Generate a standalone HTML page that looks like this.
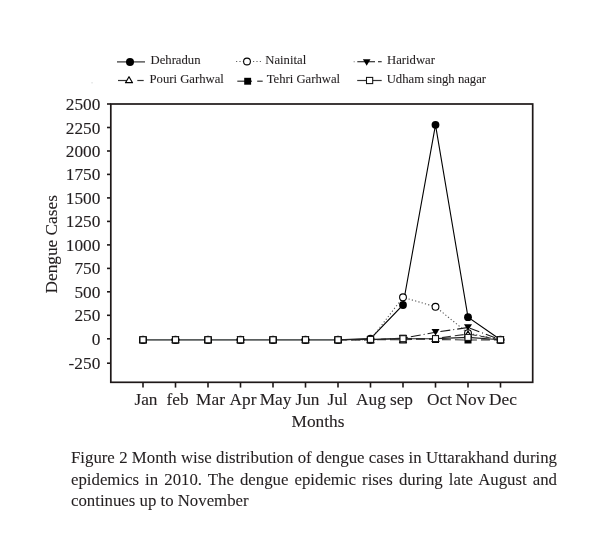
<!DOCTYPE html>
<html><head><meta charset="utf-8"><style>
html,body{margin:0;padding:0;background:#fff;}
body{width:600px;height:546px;overflow:hidden;position:relative;}
svg{position:absolute;left:0;top:0;will-change:transform;}
.t{font-family:"Liberation Serif",serif;font-size:17.3px;fill:#231f20;stroke:#231f20;stroke-width:0.12px;}
.l{font-family:"Liberation Serif",serif;font-size:12.7px;fill:#231f20;stroke:#231f20;stroke-width:0.1px;}
.cap{position:absolute;left:70.5px;width:486px;height:19px;font-family:"Liberation Serif",serif;font-size:16.8px;line-height:19px;color:#231f20;text-align:justify;text-align-last:justify;white-space:nowrap;will-change:transform;-webkit-text-stroke:0.08px #231f20;}
</style></head><body>
<svg width="600" height="546" viewBox="0 0 600 546">
<rect x="110.8" y="104" width="421.9" height="278.3" fill="none" stroke="#1e1818" stroke-width="1.7"/>
<line x1="107" y1="104.0" x2="110.8" y2="104.0" stroke="#1e1818" stroke-width="1.6"/>
<text transform="translate(100.3,110.0) scale(1,1.0)" text-anchor="end" class="t">2500</text>
<line x1="107" y1="127.5" x2="110.8" y2="127.5" stroke="#1e1818" stroke-width="1.6"/>
<text transform="translate(100.3,133.5) scale(1,1.0)" text-anchor="end" class="t">2250</text>
<line x1="107" y1="151.0" x2="110.8" y2="151.0" stroke="#1e1818" stroke-width="1.6"/>
<text transform="translate(100.3,157.0) scale(1,1.0)" text-anchor="end" class="t">2000</text>
<line x1="107" y1="174.4" x2="110.8" y2="174.4" stroke="#1e1818" stroke-width="1.6"/>
<text transform="translate(100.3,180.4) scale(1,1.0)" text-anchor="end" class="t">1750</text>
<line x1="107" y1="197.9" x2="110.8" y2="197.9" stroke="#1e1818" stroke-width="1.6"/>
<text transform="translate(100.3,203.9) scale(1,1.0)" text-anchor="end" class="t">1500</text>
<line x1="107" y1="221.4" x2="110.8" y2="221.4" stroke="#1e1818" stroke-width="1.6"/>
<text transform="translate(100.3,227.4) scale(1,1.0)" text-anchor="end" class="t">1250</text>
<line x1="107" y1="244.9" x2="110.8" y2="244.9" stroke="#1e1818" stroke-width="1.6"/>
<text transform="translate(100.3,250.9) scale(1,1.0)" text-anchor="end" class="t">1000</text>
<line x1="107" y1="268.4" x2="110.8" y2="268.4" stroke="#1e1818" stroke-width="1.6"/>
<text transform="translate(100.3,274.4) scale(1,1.0)" text-anchor="end" class="t">750</text>
<line x1="107" y1="291.8" x2="110.8" y2="291.8" stroke="#1e1818" stroke-width="1.6"/>
<text transform="translate(100.3,297.8) scale(1,1.0)" text-anchor="end" class="t">500</text>
<line x1="107" y1="315.3" x2="110.8" y2="315.3" stroke="#1e1818" stroke-width="1.6"/>
<text transform="translate(100.3,321.3) scale(1,1.0)" text-anchor="end" class="t">250</text>
<line x1="107" y1="338.8" x2="110.8" y2="338.8" stroke="#1e1818" stroke-width="1.6"/>
<text transform="translate(100.3,344.8) scale(1,1.0)" text-anchor="end" class="t">0</text>
<line x1="107" y1="363.2" x2="110.8" y2="363.2" stroke="#1e1818" stroke-width="1.6"/>
<text transform="translate(100.3,369.2) scale(1,1.0)" text-anchor="end" class="t">-250</text>
<line x1="143.0" y1="382.2" x2="143.0" y2="387.6" stroke="#1e1818" stroke-width="1.6"/>
<text x="146.0" y="404.8" text-anchor="middle" class="t">Jan</text>
<line x1="175.5" y1="382.2" x2="175.5" y2="387.6" stroke="#1e1818" stroke-width="1.6"/>
<text x="177.5" y="404.8" text-anchor="middle" class="t">feb</text>
<line x1="208.0" y1="382.2" x2="208.0" y2="387.6" stroke="#1e1818" stroke-width="1.6"/>
<text x="210.5" y="404.8" text-anchor="middle" class="t">Mar</text>
<line x1="240.5" y1="382.2" x2="240.5" y2="387.6" stroke="#1e1818" stroke-width="1.6"/>
<text x="243.0" y="404.8" text-anchor="middle" class="t">Apr</text>
<line x1="273.0" y1="382.2" x2="273.0" y2="387.6" stroke="#1e1818" stroke-width="1.6"/>
<text x="275.5" y="404.8" text-anchor="middle" class="t">May</text>
<line x1="305.5" y1="382.2" x2="305.5" y2="387.6" stroke="#1e1818" stroke-width="1.6"/>
<text x="307.5" y="404.8" text-anchor="middle" class="t">Jun</text>
<line x1="338.0" y1="382.2" x2="338.0" y2="387.6" stroke="#1e1818" stroke-width="1.6"/>
<text x="337.5" y="404.8" text-anchor="middle" class="t">Jul</text>
<line x1="370.5" y1="382.2" x2="370.5" y2="387.6" stroke="#1e1818" stroke-width="1.6"/>
<text x="371.0" y="404.8" text-anchor="middle" class="t">Aug</text>
<line x1="403.0" y1="382.2" x2="403.0" y2="387.6" stroke="#1e1818" stroke-width="1.6"/>
<text x="401.5" y="404.8" text-anchor="middle" class="t">sep</text>
<line x1="435.5" y1="382.2" x2="435.5" y2="387.6" stroke="#1e1818" stroke-width="1.6"/>
<text x="439.5" y="404.8" text-anchor="middle" class="t">Oct</text>
<line x1="468.0" y1="382.2" x2="468.0" y2="387.6" stroke="#1e1818" stroke-width="1.6"/>
<text x="470.5" y="404.8" text-anchor="middle" class="t">Nov</text>
<line x1="500.5" y1="382.2" x2="500.5" y2="387.6" stroke="#1e1818" stroke-width="1.6"/>
<text x="503.0" y="404.8" text-anchor="middle" class="t">Dec</text>
<text x="318" y="427.3" text-anchor="middle" class="t">Months</text>
<text transform="translate(56.8,244.3) rotate(-90)" text-anchor="middle" class="t">Dengue Cases</text>
<line x1="143.0" y1="339.8" x2="338.0" y2="339.8" stroke="#5a5e5e" stroke-width="1.7"/>
<polyline points="338.0,339.8 370.5,338.6 403.0,305.0 435.5,124.8 468.0,317.2 500.5,339.8" fill="none" stroke="#000" stroke-width="1.1" />
<circle cx="143.0" cy="339.8" r="3.9" fill="#000"/>
<circle cx="175.5" cy="339.8" r="3.9" fill="#000"/>
<circle cx="208.0" cy="339.8" r="3.9" fill="#000"/>
<circle cx="240.5" cy="339.8" r="3.9" fill="#000"/>
<circle cx="273.0" cy="339.8" r="3.9" fill="#000"/>
<circle cx="305.5" cy="339.8" r="3.9" fill="#000"/>
<circle cx="338.0" cy="339.8" r="3.9" fill="#000"/>
<circle cx="370.5" cy="338.6" r="3.9" fill="#000"/>
<circle cx="403.0" cy="305.0" r="3.9" fill="#000"/>
<circle cx="435.5" cy="124.8" r="3.9" fill="#000"/>
<circle cx="468.0" cy="317.2" r="3.9" fill="#000"/>
<circle cx="500.5" cy="339.8" r="3.9" fill="#000"/>
<polyline points="338.0,339.8 370.5,339.8 403.0,297.3 435.5,306.8 468.0,333.2 500.5,339.8" fill="none" stroke="#555" stroke-width="1.1" stroke-dasharray="1.2 2.2"/>
<circle cx="143.0" cy="339.8" r="3.4" fill="#fff" stroke="#000" stroke-width="1.1"/>
<circle cx="175.5" cy="339.8" r="3.4" fill="#fff" stroke="#000" stroke-width="1.1"/>
<circle cx="208.0" cy="339.8" r="3.4" fill="#fff" stroke="#000" stroke-width="1.1"/>
<circle cx="240.5" cy="339.8" r="3.4" fill="#fff" stroke="#000" stroke-width="1.1"/>
<circle cx="273.0" cy="339.8" r="3.4" fill="#fff" stroke="#000" stroke-width="1.1"/>
<circle cx="305.5" cy="339.8" r="3.4" fill="#fff" stroke="#000" stroke-width="1.1"/>
<circle cx="338.0" cy="339.8" r="3.4" fill="#fff" stroke="#000" stroke-width="1.1"/>
<circle cx="370.5" cy="339.8" r="3.4" fill="#fff" stroke="#000" stroke-width="1.1"/>
<circle cx="403.0" cy="297.3" r="3.4" fill="#fff" stroke="#000" stroke-width="1.1"/>
<circle cx="435.5" cy="306.8" r="3.4" fill="#fff" stroke="#000" stroke-width="1.1"/>
<circle cx="468.0" cy="333.2" r="3.4" fill="#fff" stroke="#000" stroke-width="1.1"/>
<circle cx="500.5" cy="339.8" r="3.4" fill="#fff" stroke="#000" stroke-width="1.1"/>
<polyline points="338.0,339.8 370.5,339.8 403.0,338.2 435.5,332.3 468.0,327.5 500.5,339.8" fill="none" stroke="#1a1a1a" stroke-width="1.1" stroke-dasharray="10 3 10 3 1 3"/>
<polygon points="139.0,336.5 147.0,336.5 143.0,343.1" fill="#000"/>
<polygon points="171.5,336.5 179.5,336.5 175.5,343.1" fill="#000"/>
<polygon points="204.0,336.5 212.0,336.5 208.0,343.1" fill="#000"/>
<polygon points="236.5,336.5 244.5,336.5 240.5,343.1" fill="#000"/>
<polygon points="269.0,336.5 277.0,336.5 273.0,343.1" fill="#000"/>
<polygon points="301.5,336.5 309.5,336.5 305.5,343.1" fill="#000"/>
<polygon points="334.0,336.5 342.0,336.5 338.0,343.1" fill="#000"/>
<polygon points="366.5,336.5 374.5,336.5 370.5,343.1" fill="#000"/>
<polygon points="399.0,334.9 407.0,334.9 403.0,341.5" fill="#000"/>
<polygon points="431.5,329.0 439.5,329.0 435.5,335.6" fill="#000"/>
<polygon points="464.0,324.2 472.0,324.2 468.0,330.8" fill="#000"/>
<polygon points="496.5,336.5 504.5,336.5 500.5,343.1" fill="#000"/>
<polyline points="338.0,339.8 370.5,339.8 403.0,339.8 435.5,338.5 468.0,334.0 500.5,339.8" fill="none" stroke="#333" stroke-width="1.1" stroke-dasharray="9 4"/>
<polygon points="139.5,342.8 146.5,342.8 143.0,336.8" fill="#fff" stroke="#000" stroke-width="1.2" stroke-linejoin="round"/>
<polygon points="172.0,342.8 179.0,342.8 175.5,336.8" fill="#fff" stroke="#000" stroke-width="1.2" stroke-linejoin="round"/>
<polygon points="204.5,342.8 211.5,342.8 208.0,336.8" fill="#fff" stroke="#000" stroke-width="1.2" stroke-linejoin="round"/>
<polygon points="237.0,342.8 244.0,342.8 240.5,336.8" fill="#fff" stroke="#000" stroke-width="1.2" stroke-linejoin="round"/>
<polygon points="269.5,342.8 276.5,342.8 273.0,336.8" fill="#fff" stroke="#000" stroke-width="1.2" stroke-linejoin="round"/>
<polygon points="302.0,342.8 309.0,342.8 305.5,336.8" fill="#fff" stroke="#000" stroke-width="1.2" stroke-linejoin="round"/>
<polygon points="334.5,342.8 341.5,342.8 338.0,336.8" fill="#fff" stroke="#000" stroke-width="1.2" stroke-linejoin="round"/>
<polygon points="367.0,342.8 374.0,342.8 370.5,336.8" fill="#fff" stroke="#000" stroke-width="1.2" stroke-linejoin="round"/>
<polygon points="399.5,342.8 406.5,342.8 403.0,336.8" fill="#fff" stroke="#000" stroke-width="1.2" stroke-linejoin="round"/>
<polygon points="432.0,341.5 439.0,341.5 435.5,335.5" fill="#fff" stroke="#000" stroke-width="1.2" stroke-linejoin="round"/>
<polygon points="464.5,337.0 471.5,337.0 468.0,331.0" fill="#fff" stroke="#000" stroke-width="1.2" stroke-linejoin="round"/>
<polygon points="497.0,342.8 504.0,342.8 500.5,336.8" fill="#fff" stroke="#000" stroke-width="1.2" stroke-linejoin="round"/>
<polyline points="338.0,339.8 370.5,339.8 403.0,338.2 435.5,339.5 468.0,340.0 500.5,339.8" fill="none" stroke="#333" stroke-width="1.1" stroke-dasharray="9 4"/>
<rect x="139.5" y="336.3" width="7.0" height="7.0" fill="#000"/>
<rect x="172.0" y="336.3" width="7.0" height="7.0" fill="#000"/>
<rect x="204.5" y="336.3" width="7.0" height="7.0" fill="#000"/>
<rect x="237.0" y="336.3" width="7.0" height="7.0" fill="#000"/>
<rect x="269.5" y="336.3" width="7.0" height="7.0" fill="#000"/>
<rect x="302.0" y="336.3" width="7.0" height="7.0" fill="#000"/>
<rect x="334.5" y="336.3" width="7.0" height="7.0" fill="#000"/>
<rect x="367.0" y="336.3" width="7.0" height="7.0" fill="#000"/>
<rect x="399.5" y="334.7" width="7.0" height="7.0" fill="#000"/>
<rect x="432.0" y="336.0" width="7.0" height="7.0" fill="#000"/>
<rect x="464.5" y="336.5" width="7.0" height="7.0" fill="#000"/>
<rect x="497.0" y="336.3" width="7.0" height="7.0" fill="#000"/>
<polyline points="338.0,339.8 370.5,339.4 403.0,338.7 435.5,338.6 468.0,337.4 500.5,339.8" fill="none" stroke="#222" stroke-width="1.1" />
<rect x="140.0" y="336.8" width="6.0" height="6.0" fill="#fff" stroke="#111" stroke-width="1.05"/>
<rect x="172.5" y="336.8" width="6.0" height="6.0" fill="#fff" stroke="#111" stroke-width="1.05"/>
<rect x="205.0" y="336.8" width="6.0" height="6.0" fill="#fff" stroke="#111" stroke-width="1.05"/>
<rect x="237.5" y="336.8" width="6.0" height="6.0" fill="#fff" stroke="#111" stroke-width="1.05"/>
<rect x="270.0" y="336.8" width="6.0" height="6.0" fill="#fff" stroke="#111" stroke-width="1.05"/>
<rect x="302.5" y="336.8" width="6.0" height="6.0" fill="#fff" stroke="#111" stroke-width="1.05"/>
<rect x="335.0" y="336.8" width="6.0" height="6.0" fill="#fff" stroke="#111" stroke-width="1.05"/>
<rect x="367.5" y="336.4" width="6.0" height="6.0" fill="#fff" stroke="#111" stroke-width="1.05"/>
<rect x="400.0" y="335.7" width="6.0" height="6.0" fill="#fff" stroke="#111" stroke-width="1.05"/>
<rect x="432.5" y="335.6" width="6.0" height="6.0" fill="#fff" stroke="#111" stroke-width="1.05"/>
<rect x="465.0" y="334.4" width="6.0" height="6.0" fill="#fff" stroke="#111" stroke-width="1.05"/>
<rect x="497.5" y="336.8" width="6.0" height="6.0" fill="#fff" stroke="#111" stroke-width="1.05"/>
<rect x="91.3" y="82" width="1.5" height="1.5" fill="#e4e6e6"/>
<line x1="117" y1="61.9" x2="145" y2="61.9" stroke="#333" stroke-width="1.2"/>
<circle cx="130.0" cy="61.9" r="4.0" fill="#000"/>
<text x="150.5" y="63.8" class="l">Dehradun</text>
<line x1="236" y1="61.5" x2="261" y2="61.5" stroke="#666" stroke-width="1.1" stroke-dasharray="1.2 2.2"/>
<circle cx="247.0" cy="61.5" r="3.4" fill="#fff" stroke="#000" stroke-width="1.1"/>
<text x="265.3" y="63.8" class="l">Nainital</text>
<line x1="353.6" y1="61.7" x2="354.8" y2="61.7" stroke="#888" stroke-width="1.1"/>
<line x1="357.3" y1="61.7" x2="375" y2="61.7" stroke="#333" stroke-width="1.2"/>
<line x1="378" y1="61.7" x2="381.7" y2="61.7" stroke="#333" stroke-width="1.2"/>
<polygon points="362.9,59.2 370.5,59.2 366.7,65.8" fill="#000"/>
<text x="387" y="63.8" class="l">Haridwar</text>
<line x1="118" y1="80.5" x2="127" y2="80.5" stroke="#333" stroke-width="1.2"/>
<line x1="137.3" y1="80.5" x2="143.7" y2="80.5" stroke="#333" stroke-width="1.2"/>
<polygon points="125.5,82.7 132.5,82.7 129.0,76.7" fill="#fff" stroke="#000" stroke-width="1.2" stroke-linejoin="round"/>
<text x="149.5" y="83.3" class="l">Pouri Garhwal</text>
<line x1="237.3" y1="81.2" x2="252" y2="81.2" stroke="#333" stroke-width="1.2"/>
<line x1="257.2" y1="81.2" x2="262.7" y2="81.2" stroke="#333" stroke-width="1.2"/>
<rect x="244.2" y="77.8" width="6.9" height="6.9" fill="#000"/>
<text x="266.7" y="83.3" class="l">Tehri Garhwal</text>
<line x1="357.2" y1="80.5" x2="381.7" y2="80.5" stroke="#333" stroke-width="1.2"/>
<rect x="366.5" y="77.4" width="6.2" height="6.2" fill="#fff" stroke="#111" stroke-width="1.05"/>
<text x="386.7" y="83.3" class="l">Udham singh nagar</text>
</svg>
<div class="cap" style="top:447.83px">Figure 2 Month wise distribution of dengue cases in Uttarakhand during</div>
<div class="cap" style="top:469.73px">epidemics in 2010. The dengue epidemic rises during late August and</div>
<div class="cap" style="top:490.83px;text-align-last:left">continues up to November</div>
</body></html>
